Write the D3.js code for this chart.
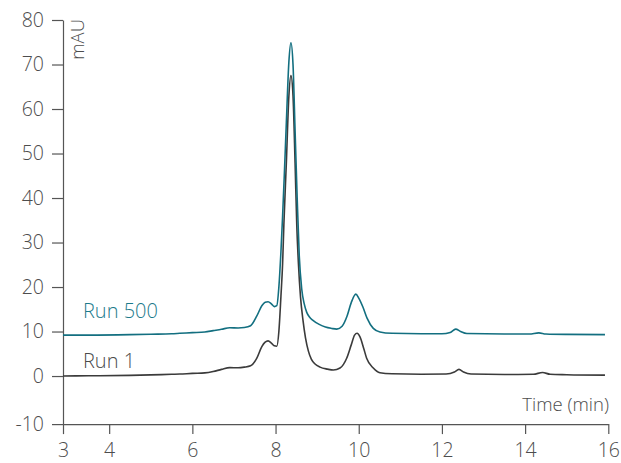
<!DOCTYPE html>
<html>
<head>
<meta charset="utf-8">
<script src="https://cdn.jsdelivr.net/npm/d3@7"></script>
<style>
  html, body { margin: 0; padding: 0; background: #ffffff; }
  svg text { font-family: "Open Sans", "Liberation Sans", sans-serif; font-weight: 300; }
</style>
</head>
<body>
<svg id="chart" width="621" height="463"></svg>
<script>
// Chromatogram traces: retention time (min) and absorbance (mAU)
const run1Time = [2.89, 3.5, 4.5, 5.0, 5.5, 5.7, 6.0, 6.3, 6.5, 6.7, 6.9, 7.1, 7.25, 7.4, 7.55, 7.67, 7.75, 7.82, 7.9, 7.97, 8.03,
  8.08, 8.13, 8.17, 8.2, 8.26, 8.32, 8.37, 8.42, 8.47, 8.51, 8.55, 8.6, 8.66, 8.72, 8.79, 8.86, 8.95, 9.07, 9.25, 9.39, 9.55, 9.71, 9.82,
  9.9, 9.96, 10.03, 10.12, 10.19, 10.35, 10.51, 10.8, 11.5, 12.1, 12.3, 12.41, 12.52, 12.7, 13.5, 14.2, 14.42, 14.6, 15.0, 15.92];
const run1Abs = [0.0, 0.05, 0.15, 0.25, 0.4, 0.45, 0.6, 0.7, 1.0, 1.5, 1.9, 1.85, 2.0, 2.3, 4.0, 6.6, 7.6, 7.9, 7.4, 6.8, 6.7,
  10, 18, 25.3, 34, 48, 62.8, 67.5, 63, 47.8, 34, 25.3, 17.8, 12.5, 8.6, 5.6, 3.8, 2.7, 2.0, 1.55, 1.35, 1.8, 4.0, 7.0,
  9.2, 9.6, 8.8, 6.2, 4.0, 1.8, 0.75, 0.5, 0.4, 0.45, 0.9, 1.5, 0.9, 0.45, 0.35, 0.4, 0.8, 0.4, 0.3, 0.2];

const run500Time = [2.89, 3.5, 4.5, 5.0, 5.5, 5.7, 6.0, 6.3, 6.5, 6.7, 6.9, 7.1, 7.25, 7.4, 7.55, 7.67, 7.75, 7.82, 7.9, 7.97, 8.03,
  8.08, 8.13, 8.17, 8.21, 8.26, 8.32, 8.37, 8.42, 8.47, 8.52, 8.57, 8.63, 8.69, 8.75, 8.82, 8.9, 9.05, 9.2, 9.35, 9.47, 9.6, 9.72,
  9.82, 9.93, 10.0, 10.1, 10.2, 10.35, 10.51, 10.8, 11.5, 12.0, 12.2, 12.33, 12.45, 12.6, 13.5, 14.1, 14.33, 14.5, 15.0, 15.92];
const run500Abs = [9.2, 9.2, 9.3, 9.4, 9.5, 9.6, 9.75, 9.9, 10.2, 10.5, 10.85, 10.8, 10.9, 11.3, 13.5, 15.8, 16.6, 16.7, 16.2, 15.6, 15.8,
  20, 28, 36, 45, 57, 70.5, 74.9, 70, 55, 40, 27, 19.5, 16.2, 14.3, 13.2, 12.5, 11.6, 11.0, 10.7, 10.55, 11.2, 13.5,
  16.5, 18.4, 17.5, 15.5, 13.0, 10.7, 9.9, 9.6, 9.5, 9.5, 9.8, 10.55, 10.0, 9.55, 9.45, 9.45, 9.7, 9.45, 9.35, 9.3];

// Axis ticks
const xTickValues = [4, 6, 8, 10, 12, 14, 16];
const yTickValues = [0, 10, 20, 30, 40, 50, 60, 70, 80];
const xStartLabel = "3";
const yStartLabel = "-10";

const seriesNames = ["Run 1", "Run 500"];
const seriesColors = ["#3b3b3b", "#136f80"];
const labelColors = ["#4a4a4a", "#1c7a8b"];

const svg = d3.select("#chart");
const xMin = 2.89, xMax = 16, yMin = -10.8, yMax = 80;

const x = d3.scaleLinear().domain([xMin, xMax]).range([63, 608.3]);
const y = d3.scaleLinear().domain([yMin, yMax]).range([424.1, 20]);

const axisColor = "#555555";
const textColor = "#4d4d4d";
const fontStack = "'Open Sans', 'Liberation Sans', sans-serif";

// Y axis
const yAxis = d3.axisLeft(y)
  .tickValues([yMin].concat(yTickValues))
  .tickFormat(d => d === yMin ? yStartLabel : d3.format("d")(d))
  .tickSize(11).tickPadding(8).tickSizeOuter(0);
const gy = svg.append("g").attr("transform", `translate(${x(xMin)},0)`).call(yAxis);

// X axis
const xAxis = d3.axisBottom(x)
  .tickValues([xMin].concat(xTickValues))
  .tickFormat(d => d === xMin ? xStartLabel : d3.format("d")(d))
  .tickSize(10).tickPadding(9).tickSizeOuter(0);
const gx = svg.append("g").attr("transform", `translate(0,${y(yMin)})`).call(xAxis);

[gx, gy].forEach(g => {
  g.select(".domain").attr("stroke", axisColor).attr("stroke-width", 1.2);
  g.selectAll(".tick line").attr("stroke", axisColor).attr("stroke-width", 1.2);
  g.selectAll(".tick text").attr("fill", textColor).style("font-size", "19.5px")
    .style("font-family", fontStack).style("font-weight", 300);
});
gx.selectAll(".tick text").attr("dy", "0.72em");

// Axis titles
svg.append("text")
  .attr("transform", `translate(84,19) rotate(-90)`)
  .attr("text-anchor", "end")
  .attr("fill", textColor)
  .style("font-size", "18.5px")
  .text("mAU");

svg.append("text")
  .attr("x", 609).attr("y", 410.5)
  .attr("text-anchor", "end")
  .attr("fill", textColor)
  .style("font-size", "18.5px")
  .text("Time (min)");

// Traces
const line = d3.line()
  .x(d => x(d[0]))
  .y(d => y(d[1]))
  .curve(d3.curveMonotoneX);

const traces = [
  d3.zip(run1Time, run1Abs),
  d3.zip(run500Time, run500Abs)
];

svg.selectAll("path.trace")
  .data(traces)
  .join("path")
  .attr("class", "trace")
  .attr("fill", "none")
  .attr("stroke", (d, i) => seriesColors[i])
  .attr("stroke-width", 1.6)
  .attr("stroke-linejoin", "round")
  .attr("d", line);

// Trace labels
const labelPos = [[3.37, 1.9], [3.37, 13.1]];
svg.selectAll("text.run-label")
  .data(seriesNames)
  .join("text")
  .attr("class", "run-label")
  .attr("x", (d, i) => x(labelPos[i][0]))
  .attr("y", (d, i) => y(labelPos[i][1]))
  .attr("fill", (d, i) => labelColors[i])
  .style("font-size", "20px")
  .text(d => d);
</script>
</body>
</html>
